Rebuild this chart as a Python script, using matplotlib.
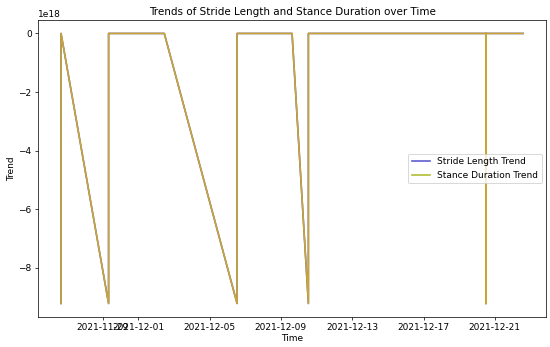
import numpy as np
import pandas as pd
import matplotlib.pyplot as plt
from matplotlib.lines import Line2D

# NaT cast to int64 ends up as the min int64 value
NAT = -9.223372036854775808e18

# Trend samples (time, value) in plotting order
times = pd.to_datetime([
    "2021-11-26 16:00", "2021-11-26 16:00", "2021-11-29 08:00", "2021-11-29 08:00",
    "2021-12-02 11:00", "2021-12-06 13:00", "2021-12-06 13:00", "2021-12-09 15:00",
    "2021-12-10 13:00", "2021-12-10 13:00", "2021-12-20 12:00", "2021-12-20 12:00",
    "2021-12-20 12:00", "2021-12-22 14:00",
])
stride_trend = [NAT, 0, NAT, 0, 0, NAT, 0, 0, NAT, 0, 0, NAT, 0, 0]
stance_trend = [NAT, 0, NAT, 0, 0, NAT, 0, 0, NAT, 0, 0, NAT, 0, 0]

fig = plt.figure(figsize=(550 / 65, 347 / 65), dpi=65)
ax = fig.add_axes([0.069, 0.0865, 0.924, 0.856])

ax.plot(times, stride_trend, color='#5a5acd', linewidth=1.8)
ax.plot(times, stance_trend, color='#c9a531', linewidth=1.8)

ax.set_xlabel('Time', labelpad=2)
ax.set_ylabel('Trend', labelpad=2)
ax.set_title('Trends of Stride Length and Stance Duration over Time', fontsize=11.5)

handles = [Line2D([], [], color='#5a5acd', linewidth=1.8),
           Line2D([], [], color='#aebc2e', linewidth=1.8)]
ax.legend(handles, ['Stride Length Trend', 'Stance Duration Trend'], loc='center right')

fig.savefig('out.png', dpi=65)
